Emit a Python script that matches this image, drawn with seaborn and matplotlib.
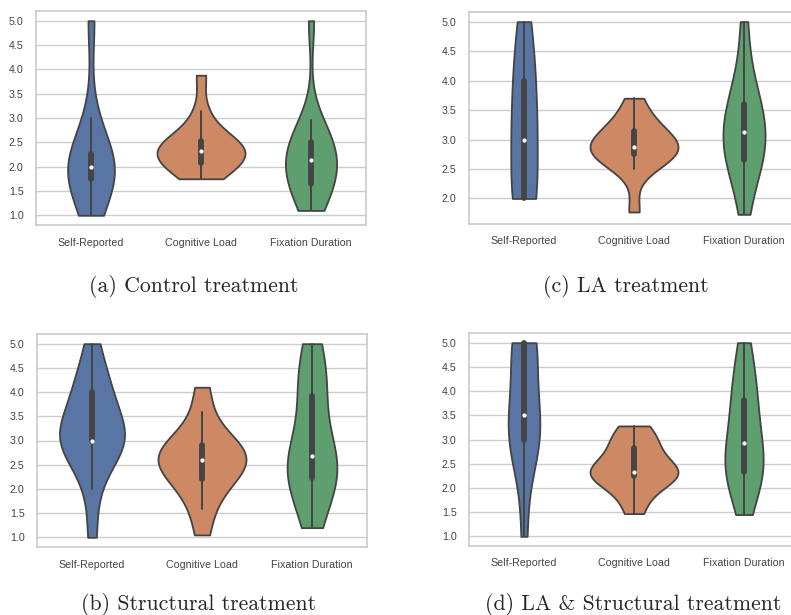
import pandas as pd
import matplotlib
matplotlib.use("Agg")
import matplotlib.pyplot as plt
import seaborn as sns

# Medidas (eixo x) e tratamentos (um painel cada)
medidas = ['Self-Reported', 'Cognitive Load', 'Fixation Duration']

# (a) Control
control_self = [1.0, 1.25, 1.75, 1.75, 2.0, 2.0, 2.0, 2.25, 2.25, 3.0, 5.0]
control_cog = [1.75, 1.85, 2.0, 2.0, 2.1, 2.2, 2.25, 2.33, 2.33, 2.4, 2.5, 2.5, 2.6, 2.8, 3.15, 3.88]
control_fix = [1.1, 1.3, 1.5, 1.6, 1.7, 1.9, 2.0, 2.13, 2.2, 2.3, 2.45, 2.55, 2.7, 2.95, 5.0]

# (b) Structural
struct_self = [1.0, 2.0, 2.5, 3.0, 3.0, 3.0, 3.0, 3.0, 3.0, 3.25, 3.5, 4.0, 4.0, 4.0, 4.5, 5.0]
struct_cog = [1.05, 1.58, 1.9, 2.2, 2.2, 2.4, 2.5, 2.6, 2.6, 2.7, 2.8, 2.9, 2.9, 3.1, 3.58, 4.1]
struct_fix = [1.2, 1.6, 2.0, 2.22, 2.22, 2.45, 2.55, 2.67, 2.8, 3.1, 3.9, 3.95, 4.3, 4.7, 5.0]

# (c) LA
la_self = [2.0, 2.0, 2.0, 2.0, 2.0, 3.0, 3.0, 3.0, 3.0, 3.5, 4.0, 4.0, 4.0, 4.5, 5.0, 5.0]
la_cog = [1.77, 2.5, 2.63, 2.75, 2.75, 2.8, 2.88, 2.88, 2.95, 3.0, 3.2, 3.2, 3.4, 3.7]
la_fix = [1.73, 2.2, 2.5, 2.62, 2.7, 2.9, 3.0, 3.13, 3.2, 3.4, 3.6, 3.62, 3.9, 4.3, 5.0]

# (d) LA & Structural
las_self = [1.0, 2.5, 3.0, 3.0, 3.0, 3.5, 3.5, 4.0, 5.0, 5.0, 5.0, 5.0]
las_cog = [1.47, 1.8, 2.1, 2.25, 2.25, 2.3, 2.33, 2.33, 2.4, 2.6, 2.9, 2.9, 3.1, 3.28]
las_fix = [1.45, 1.9, 2.2, 2.3, 2.35, 2.5, 2.7, 2.92, 3.1, 3.4, 3.8, 3.85, 4.2, 4.6, 5.0]

paineis = [
    ('(a) Control treatment', [control_self, control_cog, control_fix]),
    ('(c) LA treatment', [la_self, la_cog, la_fix]),
    ('(b) Structural treatment', [struct_self, struct_cog, struct_fix]),
    ('(d) LA & Structural treatment', [las_self, las_cog, las_fix]),
]

# posições dos eixos em pixels (esquerda, topo, base) -> fração da figura
W, H = 791, 615
caixas = [(36, 11, 225), (469, 12, 224), (37, 334, 547), (469, 333, 546)]
legendas_xy = [(194, 286), (626, 286), (199, 605), (633, 605)]

sns.set_theme(style="whitegrid")
plt.rcParams['font.family'] = ['Liberation Sans', 'DejaVu Sans']

fig = plt.figure(figsize=(W / 100, H / 100), dpi=100)

for (titulo, series), (esq, topo, base), (tx, ty) in zip(paineis, caixas, legendas_xy):
    ax = fig.add_axes([esq / W, 1 - base / H, 330 / W, (base - topo) / H])
    df = pd.DataFrame({
        'Medida': sum([[m] * len(v) for m, v in zip(medidas, series)], []),
        'Valor': sum(series, []),
    })
    sns.violinplot(data=df, x='Medida', y='Valor', hue='Medida', order=medidas,
                   hue_order=medidas, cut=0, inner='box', legend=False,
                   common_norm=True, linewidth=1.3, linecolor='#444444',
                   inner_kws=dict(box_width=4.2, whis_width=1.4, marker='o',
                                  markersize=2.2),
                   ax=ax)
    ax.set_xlabel('')
    ax.set_ylabel('')
    ax.tick_params(axis='both', labelsize=7.7, colors='#444444', pad=3)
    fig.text(tx / W, 1 - ty / H, titulo, ha='center', va='center',
             fontsize=15.7, family=['cmr10', 'DejaVu Serif'])

plt.savefig('out.png', dpi=100)
